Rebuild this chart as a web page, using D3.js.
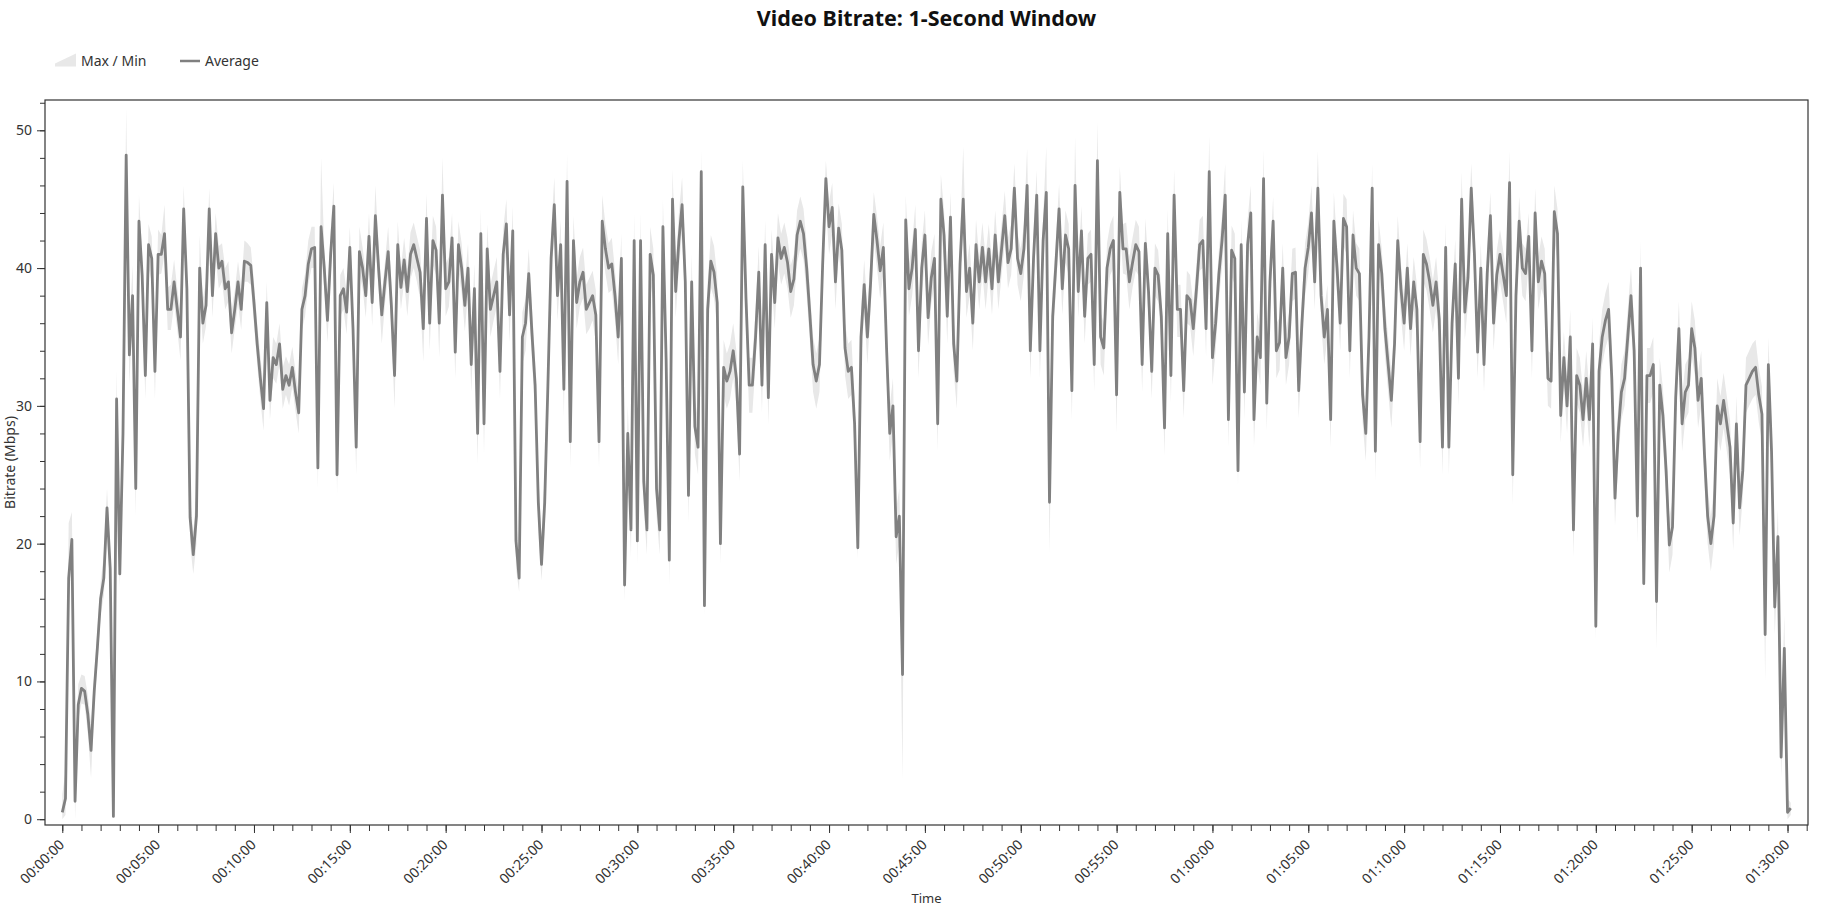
<!DOCTYPE html>
<html>
<head>
<meta charset="utf-8">
<script src="https://cdn.jsdelivr.net/npm/d3@7"></script>
<style>
  body { margin: 0; background: #fff; }
  text { font-family: "Noto Sans", sans-serif; }
</style>
</head>
<body>
<div id="gr"></div>
<script>
// one sample every 10 seconds, starting at 00:00:00
var stepSec = 10;

var avgMbps = [
  0.5, 1.5, 17.5, 20.3, 1.3, 8.3, 9.5, 9.3, 7.6, 5,
  9.3, 12.5, 16, 17.5, 22.6, 18.2, 0.2, 30.5, 17.8, 28,
  48.2, 33.7, 38, 24, 43.4, 39.5, 32.2, 41.7, 40.7, 32.5,
  41, 41, 42.5, 37, 37, 39, 37, 35, 44.3, 38.5,
  21.9, 19.2, 22, 40, 36, 37.3, 44.3, 38, 42.5, 40,
  40.5, 38.5, 39, 35.3, 37, 39, 37, 40.5, 40.4, 40.2,
  37.5, 34.5, 32, 29.8, 37.5, 30.4, 33.5, 33, 34.5, 31.2,
  32.2, 31.5, 32.8, 31, 29.5, 37, 38, 40.3, 41.4, 41.5,
  25.5, 43, 40, 36.2, 41, 44.5, 25, 38, 38.5, 36.8,
  41.5, 35.6, 27, 41.2, 40, 38, 42.3, 37.5, 43.8, 40,
  36.6, 39, 41.2, 37.3, 32.2, 41.7, 38.6, 40.6, 38.3, 41,
  41.7, 40.7, 39.7, 35.6, 43.6, 36, 42, 41.3, 36, 45.3,
  38.5, 39, 42.2, 33.9, 41.7, 40, 37.3, 40, 33, 38.5,
  28, 42.5, 28.7, 41.4, 37, 38, 39, 32.5, 41, 43.2,
  36.6, 42.7, 20.2, 17.5, 35, 36, 39.6, 35.3, 31.5, 23,
  18.5, 23, 31.5, 40.7, 44.6, 38, 41.7, 31.2, 46.3, 27.4,
  42, 37.5, 39, 39.7, 37, 37.5, 38, 36.6, 27.4, 43.4,
  41.4, 40, 40.3, 38, 35, 40.7, 17, 28, 21, 42,
  20.2, 42, 24.5, 21, 41, 39.5, 24, 21, 43, 33.4,
  18.8, 45, 38.3, 42, 44.6, 39, 23.5, 39, 28.5, 27,
  47, 15.5, 37, 40.5, 39.7, 37.5, 20, 32.8, 31.8, 32.5,
  34, 32, 26.5, 45.9, 37.8, 31.5, 31.5, 35, 39.7, 31.5,
  41.7, 30.6, 41, 37.5, 42.2, 40.7, 41.5, 40.4, 38.3, 39.2,
  42.4, 43.4, 42.5, 40, 36.6, 33, 31.8, 33, 40.3, 46.5,
  43, 44.4, 39, 42.9, 41.3, 34.2, 32.5, 32.8, 28.7, 19.7,
  35, 38.8, 35, 38.9, 43.9, 42, 39.8, 41.5, 34.2, 28,
  30, 20.5, 22, 10.5, 43.5, 38.5, 40, 42.8, 34, 40,
  42.4, 36.4, 39.3, 40.7, 28.7, 45, 42.4, 36.5, 43.7, 34.5,
  31.8, 40.3, 45, 38.3, 40, 36, 41.7, 39, 41.5, 39,
  41.4, 38.5, 42.4, 39, 41.4, 43.8, 40.4, 41.4, 45.8, 40.7,
  39.6, 41.4, 46, 34, 40.7, 45.3, 34, 42, 45.5, 23,
  36.5, 40.3, 44.3, 38.5, 42.4, 41.4, 31.1, 46, 38.3, 42.7,
  36.5, 40.7, 41, 33, 47.8, 35, 34.2, 40, 41.4, 42,
  30.8, 45.5, 41.4, 41.4, 39, 40.4, 41.7, 41.2, 33, 41.8,
  38.3, 32.5, 40, 39.5, 36.5, 28.4, 42.5, 32.2, 45.3, 37,
  37, 31.1, 38, 37.7, 35.6, 38.5, 41.7, 42, 35.6, 47,
  33.5, 36, 39.5, 42, 45.3, 29, 41.3, 40.7, 25.3, 41.7,
  31, 41.7, 44, 29, 35, 33.5, 46.5, 30.2, 39, 43.4,
  34, 34.6, 40, 33.5, 35, 39.6, 39.7, 31.1, 36, 40,
  41.5, 44, 39, 45.8, 38, 35, 37, 29, 43.4, 40,
  36, 43.6, 43, 34, 42.4, 40, 39.6, 30.8, 28, 35,
  45.8, 26.7, 41.7, 39.6, 35.6, 33, 30.4, 34.5, 42, 38.5,
  36, 40, 35.6, 39, 37, 27.4, 41, 40.3, 39, 37.3,
  39, 36.3, 27, 41.5, 27, 36, 40.3, 32, 45, 36.8,
  39.3, 45.8, 41, 33.9, 40, 33, 39.6, 43.8, 36, 39.5,
  41, 39.5, 38, 46.2, 25, 38, 43.4, 40, 39.6, 42.3,
  34, 44, 39, 40.5, 39.6, 32, 31.8, 44.1, 42.5, 29.3,
  33.5, 30, 35, 21, 32.2, 31.5, 29, 32, 29, 34.5,
  14, 32.5, 35, 36.2, 37, 32, 23.3, 28, 31, 32,
  35, 38, 34, 22, 40, 17.1, 32.2, 32.2, 33, 15.8,
  31.5, 29.3, 25.3, 19.9, 21.2, 30.6, 35.6, 28.7, 31, 31.5,
  35.6, 34.2, 30.4, 32, 26.5, 22, 20, 22, 30, 28.7,
  30.4, 28.7, 27, 21.5, 28.7, 22.6, 25.3, 31.5, 32, 32.5,
  32.8, 30.8, 29.4, 13.4, 33, 26.7, 15.4, 20.5, 4.5, 12.4,
  0.5, 0.8
];

var maxMbps = [
  1.8, 3.5, 21.5, 22.3, 4, 9.8, 10.5, 10.4, 9, 7,
  10.5, 13.8, 17.2, 19.2, 24, 19.5, 2, 32.6, 19.5, 31,
  51.6, 35.5, 40.2, 26, 45.3, 41, 34, 43.2, 42.3, 34,
  42.8, 42.4, 44.6, 38.6, 38.8, 40.6, 38.5, 36.8, 46, 40,
  23.5, 20.8, 24, 42.4, 37.8, 39, 45.8, 39.5, 44, 41.6,
  41.8, 40, 40.5, 37, 38.4, 40.5, 38.7, 42, 41.8, 41.5,
  39, 36, 33.6, 31.4, 39, 32, 35, 34.5, 36, 32.8,
  33.6, 33, 34.3, 32.5, 31, 38.5, 39.6, 42, 43, 43,
  27, 48, 41.6, 37.8, 42.7, 46.2, 27, 39.5, 40, 38.3,
  43, 37.2, 29, 43, 41.5, 39.6, 44, 39, 46, 41.5,
  38, 40.5, 43, 39, 34, 43.4, 40, 42.2, 40, 42.6,
  43.3, 42.3, 41.3, 37.4, 45.4, 37.8, 43.8, 43, 37.8, 48,
  40.3, 40.8, 44, 35.6, 43.4, 41.8, 39, 41.8, 35, 40.3,
  30, 44.3, 30.5, 43.2, 38.8, 39.8, 40.8, 34.4, 42.8, 45,
  38.4, 44.5, 22, 19, 36.8, 37.8, 41.4, 37.2, 33.3, 25,
  20.5, 25, 33.3, 42.5, 46.6, 39.8, 43.5, 33.2, 48.3, 29.5,
  43.8, 39.3, 40.8, 41.5, 38.8, 39.3, 39.8, 38.4, 29.5, 45.3,
  43.2, 41.8, 42.2, 39.8, 37, 42.5, 19, 30, 23, 44,
  22.3, 44, 26.5, 23, 43, 41.4, 26.2, 23, 45, 35.4,
  21, 47.2, 40.2, 44, 46.6, 41, 25.5, 41, 30.5, 29,
  48.6, 17.5, 39, 42.4, 41.6, 39.4, 22, 34.8, 33.8, 34.5,
  36, 34, 28.5, 47.8, 39.8, 33.5, 33.5, 37, 41.6, 33.4,
  43.5, 32.5, 42.8, 39.3, 44, 42.5, 43.3, 42.2, 40.2, 41,
  44.2, 45.2, 44.3, 41.8, 38.4, 35, 33.8, 35, 42.2, 47.8,
  44.8, 46.2, 41, 44.7, 43.2, 36, 34.5, 34.8, 30.5, 21.5,
  37, 40.6, 37, 40.8, 45.5, 43.8, 41.6, 43.3, 36, 30,
  32, 22.5, 24, 12.5, 45.3, 40.3, 41.8, 44.6, 36, 41.8,
  44.2, 38.2, 41.2, 42.5, 30.5, 46.8, 44.2, 38.3, 45.5, 36.3,
  33.6, 42.1, 48.8, 40.1, 41.8, 37.8, 43.5, 40.8, 43.3, 40.8,
  43.2, 40.3, 44.2, 40.8, 43.2, 45.6, 42.2, 43.2, 47.6, 42.5,
  41.4, 43.2, 48.7, 35.8, 42.5, 47.1, 35.8, 43.8, 48.8, 25,
  38.3, 42.1, 46.1, 40.3, 44.2, 43.2, 32.9, 49.5, 40.1, 44.5,
  38.3, 42.5, 42.8, 34.8, 50.6, 36.8, 36, 41.8, 43.2, 43.8,
  32.8, 47.4, 43.2, 43.3, 40.8, 42.2, 43.5, 43, 35, 43.6,
  40.1, 34.5, 41.8, 41.3, 38.3, 30.4, 44.3, 34.2, 47.2, 38.8,
  38.8, 33, 39.8, 39.5, 37.4, 40.3, 43.5, 43.8, 37.4, 49.6,
  35.5, 37.8, 41.3, 43.8, 47.6, 31, 43.1, 42.5, 27.3, 43.5,
  33, 43.5, 46, 31, 36.8, 35.5, 48.6, 32.2, 40.8, 45.2,
  36, 36.4, 41.8, 35.5, 36.8, 41.4, 41.5, 33, 37.8, 41.8,
  43.3, 46, 40.8, 48.5, 39.8, 37, 38.8, 31, 45.5, 41.8,
  37.8, 45.4, 45, 36, 44.2, 41.8, 41.4, 32.8, 30, 36.8,
  47.6, 28.7, 43.5, 41.4, 37.4, 35, 32.4, 36.3, 43.8, 40.3,
  37.8, 41.8, 37.4, 40.8, 38.8, 29.4, 42.8, 42.1, 40.8, 39.1,
  40.8, 38.1, 29, 43.3, 29, 37.8, 42.1, 34, 47, 38.6,
  41.1, 47.6, 42.8, 35.8, 41.8, 35, 41.4, 45.5, 37.8, 41.3,
  42.8, 41.3, 39.8, 48.5, 27.5, 39.8, 45.2, 41.8, 41.4, 44,
  36, 45.8, 40.8, 42.3, 41.4, 34, 33.8, 46, 44.3, 31.3,
  35.4, 32, 37, 23, 34.2, 33.5, 31, 34, 31, 36.4,
  16, 34.5, 37, 38.2, 39, 34, 25.5, 30, 33, 34,
  37, 40, 36, 24, 42, 19, 34.2, 34.2, 35, 18,
  33.5, 31.3, 27.3, 21.9, 23.2, 32.6, 37.6, 30.7, 33, 33.5,
  37.6, 36.2, 32.4, 34, 28.5, 24, 22, 24, 32, 30.7,
  32.4, 30.7, 29, 23.5, 30.7, 24.6, 27.3, 33.5, 34, 34.5,
  34.8, 32.8, 31.4, 15.5, 35, 28.7, 17.5, 22.5, 7, 14.8,
  1.5, 1.2
];

var minMbps = [
  0, 0.3, 15.5, 18.8, 0, 7.2, 8.4, 8.3, 6.2, 3,
  8.2, 11.2, 14.8, 16.2, 20.5, 17, 0, 27.5, 16.8, 25,
  44, 31.5, 36.5, 22, 41.5, 38, 30.5, 40, 39, 30.5,
  39.5, 39.6, 41, 35.5, 35.5, 37.4, 35.5, 33.3, 42.5, 36.8,
  20, 17.8, 20, 38.2, 34.5, 35.8, 42.6, 36.4, 40.8, 38.5,
  39, 37, 37.6, 33.8, 35.6, 37.4, 35.5, 39, 39, 38.8,
  36, 33, 30.4, 28.2, 36, 29, 32, 31.6, 33, 29.8,
  30.8, 30, 31.4, 29.6, 28, 35.5, 36.5, 38.8, 40, 40,
  24, 41.2, 38.5, 34.6, 39.4, 42.8, 23.6, 36.5, 37, 35.2,
  40, 34, 25, 39.6, 38.5, 36.4, 40.6, 35.8, 42.2, 38.4,
  34.5, 37.4, 39.6, 35.6, 29.8, 40, 37, 39, 36.5, 39.2,
  40, 39, 37.8, 33.2, 41.8, 34, 40.2, 39.5, 33.5, 43.3,
  36.5, 37.2, 40.4, 32, 39.8, 38.2, 35.4, 38.2, 31, 36.6,
  25.8, 40.6, 26.5, 39.6, 35, 36.2, 37.2, 30.5, 39.2, 41.4,
  34.6, 40.8, 18.2, 16.5, 33, 34, 37.6, 33.4, 29.5, 21,
  17.3, 21, 29.5, 38.8, 42.6, 36.2, 39.8, 29.2, 44.2, 25.5,
  40.2, 35.6, 37.2, 37.8, 35.2, 35.6, 36.2, 34.6, 25.5, 41.6,
  39.6, 38.2, 38.4, 36.2, 33, 38.8, 15.8, 26, 19, 40,
  18.5, 40, 22.5, 19.2, 39, 37.6, 22, 19.2, 41, 31.4,
  17, 43, 36.4, 40, 42.6, 37, 21.5, 37, 26.5, 25,
  45, 14.8, 35, 38.6, 37.8, 35.6, 18.5, 30.8, 29.8, 30.5,
  32, 30, 24.5, 43.8, 35.8, 29.5, 29.5, 33, 37.8, 29.5,
  39.8, 28.6, 39, 35.6, 40.3, 38.8, 39.6, 38.5, 36.4, 37.3,
  40.4, 41.4, 40.6, 38, 34.7, 31, 29.8, 31, 38.4, 44.5,
  41, 42.5, 37, 41, 39.4, 32.2, 30.5, 30.8, 26.7, 18.9,
  33, 36.8, 33, 37, 42, 40, 37.8, 39.6, 32.2, 26,
  28, 18.5, 20, 2.8, 41.5, 36.5, 38, 40.8, 32, 38,
  40.4, 34.4, 37.4, 38.8, 26.7, 43, 40.4, 34.5, 41.8, 32.5,
  29.8, 38.4, 43, 36.4, 38, 34, 39.8, 37, 39.6, 37,
  39.5, 36.6, 40.4, 37, 39.5, 41.8, 38.5, 39.5, 43.8, 38.8,
  37.6, 39.5, 44, 32, 38.8, 43.3, 32, 40, 43.5, 19.3,
  34.5, 38.4, 42.3, 36.6, 40.4, 39.5, 29, 44, 36.4, 40.8,
  34.5, 38.8, 39, 31, 45.8, 33, 32.2, 38, 39.5, 40,
  28, 43.5, 39.6, 39.5, 37, 38.6, 39.8, 39.4, 31, 40,
  36.4, 30.5, 38, 37.6, 34.6, 26.4, 40.6, 30.2, 43.4, 35,
  35, 29.1, 36, 35.8, 33.6, 36.6, 39.8, 40, 33.6, 45,
  31.5, 34, 37.6, 40, 43.4, 27, 39.4, 38.8, 24.2, 39.8,
  29, 39.8, 42, 27, 33, 31.5, 44.5, 28.2, 37, 41.5,
  32, 32.6, 38, 31.5, 33, 37.6, 37.8, 29.1, 34, 38,
  39.6, 42, 37, 43.8, 36, 33, 35, 27, 41.4, 38,
  34, 41.6, 41, 32, 40.4, 38, 37.6, 28.8, 26, 33,
  43.8, 24.5, 39.8, 37.6, 33.6, 31, 28.4, 32.5, 40, 36.5,
  34, 38, 33.6, 37, 35, 25.4, 39, 38.4, 37, 35.3,
  37, 34.3, 25, 39.6, 25, 34, 38.4, 30, 43, 34.8,
  37.4, 43.8, 39, 32, 38, 31, 37.6, 41.8, 34, 37.5,
  39, 37.5, 36, 44, 22.8, 36, 41.4, 38, 37.6, 40.3,
  32, 42, 37, 38.5, 37.6, 30, 29.8, 42, 40.5, 27.3,
  31.5, 28, 33, 19, 30.2, 29.5, 27, 30, 27, 32.5,
  13, 30.5, 33, 34.2, 35, 30, 21.3, 26, 29, 30,
  33, 36, 32, 20, 38, 16.5, 30.2, 30.2, 31, 12.3,
  29.5, 27.3, 23.3, 17.9, 19.2, 28.6, 33.6, 26.7, 29, 29.5,
  33.6, 32.2, 28.4, 30, 24.5, 20, 18, 20, 28, 26.7,
  28.4, 26.7, 25, 19.5, 26.7, 20.6, 23.3, 29.5, 30, 30.5,
  30.8, 28.8, 27.4, 10, 31, 24.7, 13.4, 18.5, 3, 10.5,
  0, 0.3
];

var minorTickSec = d3.range(0, 5461, 60);
var majorTickSec = d3.range(0, 5401, 300);
var yMinorTicks = d3.range(0, 53, 2);
var yMajorTicks = [0, 10, 20, 30, 40, 50];

var width = 1828,
    height = 906;

var plot = { left: 45, right: 1808, top: 100, bottom: 825 };

var svg = d3.select("#gr").append("svg").
  attr("width", width).
  attr("height", height);

var lastSec = (avgMbps.length - 1) * stepSec;
var padSec = lastSec * 0.01;

var xScale = d3.scaleLinear().
  domain([-padSec, lastSec + padSec]).
  range([plot.left, plot.right]);

var yScale = d3.scaleLinear().
  domain([-0.42, 52.2]).
  range([plot.bottom, plot.top]);

function hms(s) {
  var h = Math.floor(s / 3600), m = Math.floor(s % 3600 / 60), sec = s % 60;
  function p(n) { return (n < 10 ? "0" : "") + n; }
  return p(h) + ":" + p(m) + ":" + p(sec);
}

var rows = avgMbps.map(function (v, i) {
  return { t: i * stepSec, avg: v, max: maxMbps[i], min: minMbps[i] };
});

svg.append("defs").append("clipPath").attr("id", "clip").
  append("rect").
  attr("x", plot.left).attr("y", plot.top).
  attr("width", plot.right - plot.left).
  attr("height", plot.bottom - plot.top);

// max / min band
var band = d3.area().
  x(function (d) { return xScale(d.t); }).
  y0(function (d) { return yScale(d.min); }).
  y1(function (d) { return yScale(d.max); });

svg.append("path").
  datum(rows).
  attr("clip-path", "url(#clip)").
  attr("fill", "#e8e8e8").
  attr("d", band);

// average line
var line = d3.line().
  x(function (d) { return xScale(d.t); }).
  y(function (d) { return yScale(d.avg); });

svg.append("path").
  datum(rows).
  attr("clip-path", "url(#clip)").
  attr("fill", "none").
  attr("stroke", "#808080").
  attr("stroke-width", 2.8).
  attr("stroke-linejoin", "round").
  attr("d", line);

// frame
svg.append("rect").
  attr("x", plot.left).attr("y", plot.top).
  attr("width", plot.right - plot.left).
  attr("height", plot.bottom - plot.top).
  attr("fill", "none").
  attr("stroke", "#333").
  attr("stroke-width", 1.2);

// y axis
var yMinor = svg.append("g").
  attr("transform", "translate(" + plot.left + ",0)").
  call(d3.axisLeft(yScale).tickValues(yMinorTicks).tickSize(5).tickFormat(""));
yMinor.select(".domain").remove();

var yMajor = svg.append("g").
  attr("transform", "translate(" + plot.left + ",0)").
  call(d3.axisLeft(yScale).tickValues(yMajorTicks).tickSize(8).tickPadding(5));
yMajor.select(".domain").remove();
yMajor.selectAll("text").style("font-size", "14px").attr("fill", "#333");

// x axis
var xMinor = svg.append("g").
  attr("transform", "translate(0," + plot.bottom + ")").
  call(d3.axisBottom(xScale).tickValues(minorTickSec).tickSize(6).tickFormat(""));
xMinor.select(".domain").remove();

var xMajor = svg.append("g").
  attr("transform", "translate(0," + plot.bottom + ")").
  call(d3.axisBottom(xScale).tickValues(majorTickSec).tickSize(8).tickFormat(hms));
xMajor.select(".domain").remove();
xMajor.selectAll("text").
  attr("x", 0).
  attr("y", 0).
  attr("dy", "0.35em").
  attr("transform", "translate(-1,17) rotate(-45)").
  style("text-anchor", "end").
  style("font-size", "14px").
  attr("fill", "#333");

svg.selectAll(".tick line").attr("stroke", "#333");

// axis titles
svg.append("text").
  attr("transform", "rotate(-90)").
  attr("x", -(plot.top + plot.bottom) / 2).
  attr("y", 15).
  attr("text-anchor", "middle").
  style("font-size", "14px").
  attr("fill", "#333").
  text("Bitrate (Mbps)");

svg.append("text").
  attr("x", (plot.left + plot.right) / 2).
  attr("y", 903).
  attr("text-anchor", "middle").
  style("font-size", "13px").
  attr("fill", "#333").
  text("Time");

// title
svg.append("text").
  attr("x", (plot.left + plot.right) / 2).
  attr("y", 26).
  attr("text-anchor", "middle").
  style("font-size", "21.5px").
  style("font-weight", "bold").
  attr("fill", "#111").
  text("Video Bitrate: 1-Second Window");

// legend
var legend = svg.append("g");
legend.append("path").
  attr("d", "M55,66.5L55,63.5L76,53.5L76,66.5Z").
  attr("fill", "#e8e8e8");
legend.append("text").
  attr("x", 81).attr("y", 66).
  style("font-size", "14px").
  attr("fill", "#333").
  text("Max / Min");
legend.append("line").
  attr("x1", 180).attr("x2", 200).
  attr("y1", 61).attr("y2", 61).
  attr("stroke", "#808080").
  attr("stroke-width", 2.5);
legend.append("text").
  attr("x", 205).attr("y", 66).
  style("font-size", "14px").
  attr("fill", "#333").
  text("Average");
</script>
</body>
</html>
